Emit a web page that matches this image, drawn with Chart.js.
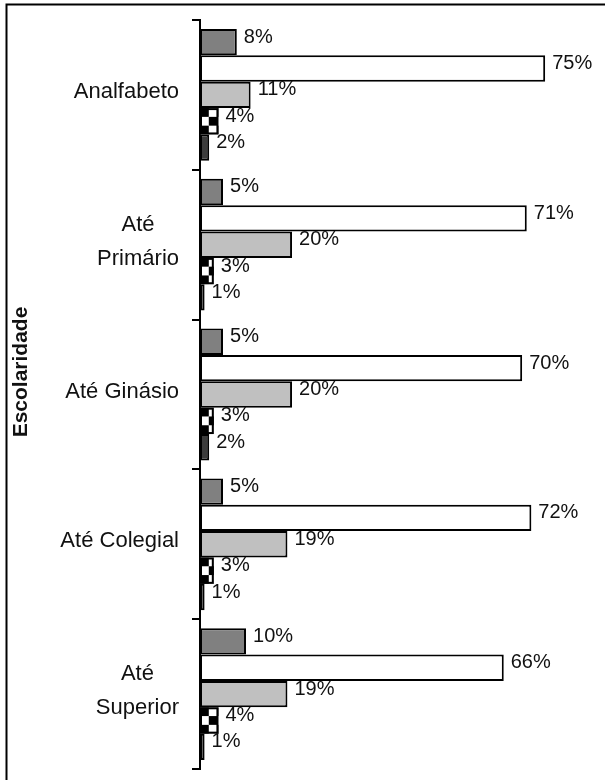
<!DOCTYPE html>
<html>
<head>
<meta charset="utf-8">
<script src="https://cdn.jsdelivr.net/npm/chart.js@4"></script>
<style>
  html, body { margin: 0; padding: 0; background: #fff; }
  #wrap { width: 605px; height: 780px; position: relative; }
</style>
</head>
<body>
<div id="wrap"><canvas id="myChart" width="605" height="780"></canvas></div>
<script>
// categories (multi-line ones split into lines)
const categorias = [
  ["Analfabeto"],
  ["Até", "Primário"],
  ["Até Ginásio"],
  ["Até Colegial"],
  ["Até", "Superior"]
];

// five series, one value per category (%)
const serie1 = [8, 5, 5, 5, 10];
const serie2 = [75, 71, 70, 72, 66];
const serie3 = [11, 20, 20, 19, 19];
const serie4 = [4, 3, 3, 3, 4];
const serie5 = [2, 1, 2, 1, 1];

const tituloY = "Escolaridade";
const FONTE = "'Liberation Sans', Arial, sans-serif";

// draws the checkered bars on top of the plain white ones
const xadrez = {
  id: 'xadrez',
  afterDatasetDraw(chart, args) {
    if (args.index !== 3) return;
    const c = chart.ctx;
    args.meta.data.forEach((bar) => {
      const p = bar.getProps(['x', 'y', 'base', 'height'], true);
      const left = Math.min(p.base, p.x), right = Math.max(p.base, p.x);
      const top = p.y - p.height / 2, h = p.height;
      const s = h / 3;
      c.save();
      c.beginPath();
      c.rect(left, top, right - left, h);
      c.clip();
      c.fillStyle = '#fff';
      c.fillRect(left, top, right - left, h);
      c.fillStyle = '#000';
      for (let j = 0; j < 3; j++) {
        for (let i = 0; i * s < right - left; i++) {
          if ((i + j) % 2 === 0) c.fillRect(left + i * s, top + j * s, s, s);
        }
      }
      c.restore();
      c.save();
      c.strokeStyle = '#000';
      c.lineWidth = 2;
      c.strokeRect(left + 1, top + 1, right - left - 2, h - 2);
      c.restore();
    });
  }
};

// value labels, category labels, axis title and frame
const textos = {
  id: 'textos',
  afterDraw(chart) {
    const c = chart.ctx;
    c.save();
    c.fillStyle = '#111';
    c.font = '20px ' + FONTE;
    c.textBaseline = 'middle';

    // percentages at the end of every bar
    c.textAlign = 'left';
    chart.data.datasets.forEach((ds, di) => {
      chart.getDatasetMeta(di).data.forEach((bar, i) => {
        c.fillText(ds.data[i] + '%', bar.x + 7, bar.y - 5);
      });
    });

    // category labels: block right aligned, lines centred
    const yScale = chart.scales.y;
    const direita = yScale.right - 21;
    c.font = '22px ' + FONTE;
    c.textAlign = 'center';
    categorias.forEach((linhas, i) => {
      const yc = yScale.getPixelForTick(i) - 3;
      const w = Math.max(...linhas.map(l => c.measureText(l).width));
      const cx = direita - w / 2;
      const lh = 34;
      linhas.forEach((l, k) => {
        c.fillText(l, cx, yc + (k - (linhas.length - 1) / 2) * lh);
      });
    });

    // axis title
    c.font = 'bold 21px ' + FONTE;
    c.translate(21, 372);
    c.rotate(-Math.PI / 2);
    c.fillText(tituloY, 0, 0);
    c.restore();

    // outer frame (only top and left edges fall inside the picture)
    c.save();
    c.strokeStyle = '#000';
    c.lineWidth = 2;
    c.beginPath();
    c.moveTo(605, 4.5);
    c.lineTo(6.5, 4.5);
    c.lineTo(6.5, 780);
    c.stroke();
    c.restore();
  }
};

const ctx = document.getElementById('myChart');

new Chart(ctx, {
  type: 'bar',
  data: {
    labels: categorias,
    datasets: [
      { data: serie1, backgroundColor: '#808080' },
      { data: serie2, backgroundColor: '#ffffff' },
      { data: serie3, backgroundColor: '#c0c0c0' },
      { data: serie4, backgroundColor: '#ffffff' },
      { data: serie5, backgroundColor: '#3c3c3c' }
    ].map(d => Object.assign(d, {
      borderColor: '#000',
      borderWidth: 2,
      borderSkipped: false,
      barPercentage: 1,
      categoryPercentage: 0.88
    }))
  },
  options: {
    indexAxis: 'y',
    responsive: false,
    animation: false,
    layout: { padding: { top: 20, bottom: 11, left: 0, right: 0 } },
    plugins: {
      legend: { display: false },
      tooltip: { enabled: false }
    },
    scales: {
      x: { display: false, min: 0, max: 88 },
      y: {
        ticks: { display: false },
        grid: {
          offset: true,
          drawOnChartArea: false,
          drawTicks: true,
          tickLength: 8,
          color: '#000',
          lineWidth: 2
        },
        border: { display: true, color: '#000', width: 2 },
        afterFit(scale) { scale.width = 200; }
      }
    }
  },
  plugins: [xadrez, textos]
});
</script>
</body>
</html>
